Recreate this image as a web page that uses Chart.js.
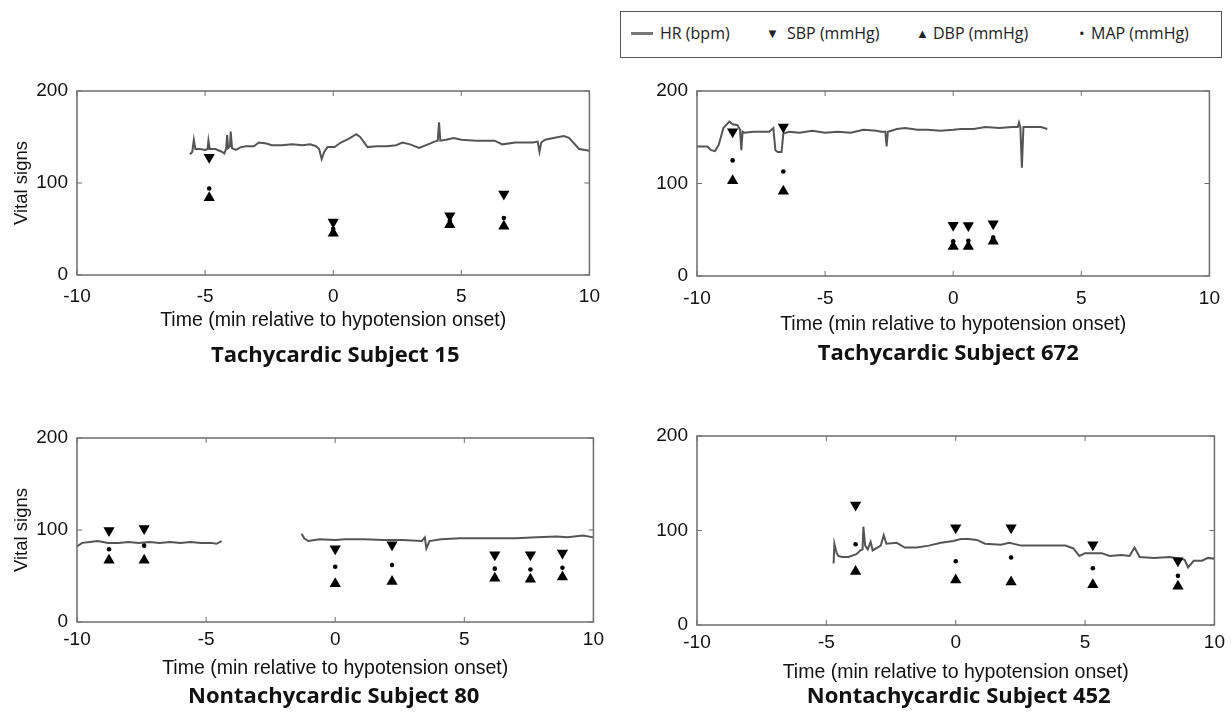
<!DOCTYPE html>
<html>
<head>
<meta charset="utf-8">
<script src="https://cdn.jsdelivr.net/npm/chart.js@4.4.1/dist/chart.umd.min.js"></script>
<style>
  html, body { margin: 0; padding: 0; background: #fff; }
  body { width: 1231px; height: 716px; position: relative; overflow: hidden; }
  canvas { position: absolute; }
  #legend { position: absolute; left: 620px; top: 11px; width: 602px; height: 47px; border: 1.5px solid #555; box-sizing: border-box; font-family: "Open Sans", sans-serif; font-size: 16px; color: #222; }
  #legend span { position: absolute; top: 10px; white-space: nowrap; }
</style>
</head>
<body>
<div id="legend">
  <span style="left:10px;top:20px;width:22px;height:3px;background:#777;"></span>
  <span style="left:39px;">HR (bpm)</span>
  <span style="left:145px;font-size:13px;top:12px;">&#9660;</span>
  <span style="left:166px;">SBP (mmHg)</span>
  <span style="left:295px;font-size:13px;top:12px;">&#9650;</span>
  <span style="left:312px;">DBP (mmHg)</span>
  <span style="left:458px;font-size:15px;top:11px;">&#8226;</span>
  <span style="left:470px;">MAP (mmHg)</span>
</div>
<canvas id="c1"></canvas>
<canvas id="c2"></canvas>
<canvas id="c3"></canvas>
<canvas id="c4"></canvas>
<script>
// ---------- Data ----------
const xTicks = [-10, -5, 0, 5, 10];
const yTicks = [0, 100, 200];
const seriesNames = ["HR (bpm)", "SBP (mmHg)", "DBP (mmHg)", "MAP (mmHg)"];
const panelTitles = ["Tachycardic Subject 15", "Tachycardic Subject 672", "Nontachycardic Subject 80", "Nontachycardic Subject 452"];

// Subject 15
const hr15Time = [-5.59,-5.50,-5.44,-5.38,-5.20,-5.00,-4.90,-4.87,-4.82,-4.60,-4.35,-4.25,-4.18,-4.14,-4.10,-4.03,-4.00,-3.95,-3.80,-3.60,-3.40,-3.10,-2.90,-2.60,-2.40,-2.00,-1.60,-1.20,-0.90,-0.67,-0.55,-0.45,-0.35,-0.22,0.05,0.30,0.60,0.90,1.05,1.34,1.70,2.10,2.46,2.70,3.00,3.35,3.70,3.95,4.08,4.13,4.18,4.40,4.70,5.00,5.60,6.30,6.60,7.10,7.80,7.98,8.05,8.12,8.27,8.60,9.00,9.20,9.60,10.00];
const hr15 =     [131,134,147,137,137,136,137,146,137,137,134,132,137,152,138,140,156,138,136,139,140,140,144,143,141,141,142,141,142,140,137,126,134,139,139,144,148,153,150,139,140,140,141,144,142,138,142,145,146,166,146,147,149,147,146,146,142,144,144,145,134,144,147,149,151,149,137,135];
const bp15Time = [-4.84, 0, 4.55, 6.66];
const sbp15 = [128, 57.5, 64.5, 88];
const dbp15 = [84, 45.5, 54.5, 53];
const map15 = [94, 50, 59, 62];

// Subject 672
const hr672Time = [-10.00,-9.60,-9.45,-9.30,-9.15,-8.97,-8.80,-8.74,-8.60,-8.42,-8.32,-8.27,-8.22,-8.16,-7.80,-7.40,-7.18,-7.02,-6.94,-6.85,-6.70,-6.63,-6.40,-6.00,-5.50,-5.00,-4.50,-4.00,-3.50,-3.00,-2.80,-2.65,-2.60,-2.55,-2.20,-1.87,-1.40,-1.00,-0.50,0.00,0.30,0.80,1.25,1.80,2.30,2.52,2.57,2.62,2.68,2.74,3.00,3.43,3.67];
const hr672 =     [140,140,136,135,142,160,165,167,164,163,158,136,156,155,156,156,156,160,136,134,134,154,156,155,157,155,156,155,158,157,156,156,140,156,159,160,158,158,157,158,159,159,161,160,161,161,166,161,117,161,161,161,159];
const bp672Time = [-8.61, -6.63, 0, 0.59, 1.56];
const sbp672 = [156, 161, 55, 54.5, 56.5];
const dbp672 = [103, 91.5, 32, 32, 37.5];
const map672 = [125, 113, 37.5, 38, 41.5];

// Subject 80 (null = gap in HR recording)
const hr80Time = [-10.00,-9.80,-9.50,-9.20,-8.80,-8.40,-8.00,-7.60,-7.20,-6.80,-6.40,-6.00,-5.60,-5.20,-4.80,-4.60,-4.40,-3.00,-1.30,-1.20,-1.05,-0.60,0.00,0.40,1.10,1.86,2.60,3.35,3.47,3.53,3.65,4.10,4.84,5.50,6.33,7.00,7.80,8.57,9.00,9.60,10.00];
const hr80 =     [82,86,87,88,86,86,87,86,87,86,87,86,87,86,86,85,88,null,96,91,88,90,89,90,90,89,89,88,92,80,88,90,91,91,91,91,92,93,92,94,92];
const bp80Time = [-8.76, -7.4, 0, 2.2, 6.18, 7.56, 8.8];
const sbp80 = [99.5, 101.5, 79.5, 84, 73, 73, 75];
const dbp80 = [67, 67, 41.5, 44, 47.5, 46.5, 49];
const map80 = [79, 83, 60, 62, 58, 57, 59];

// Subject 452
const hr452Time = [-4.72,-4.69,-4.60,-4.53,-4.38,-4.15,-3.84,-3.68,-3.60,-3.57,-3.50,-3.40,-3.29,-3.21,-2.90,-2.78,-2.68,-2.28,-1.97,-1.50,-1.04,-0.57,-0.10,0.20,0.50,0.82,1.13,1.75,2.07,2.53,3.30,4.24,4.55,4.78,5.00,5.64,5.95,6.41,6.72,6.91,7.11,7.66,8.28,8.66,8.85,8.98,9.20,9.52,9.75,10.00];
const hr452 =     [65,86,76,73,72,72,75,79,80,104,84,80,88,79,84,95,86,87,82,82,84,87,89,91,91,90,86,85,87,84,84,84,81,73,76,76,73,74,73,82,72,71,72,70,69,61,68,68,71,70];
const bp452Time = [-3.87, 0, 2.14, 5.3, 8.59];
const sbp452 = [127, 103, 103, 85, 68];
const dbp452 = [56.5, 47.5, 45.5, 42.5, 41];
const map452 = [85.5, 67.5, 71.5, 60, 52];

// ---------- Helpers ----------
function pts(xs, ys) { return xs.map((x, i) => ({ x: x, y: ys[i] })); }
const FONT = '"Liberation Sans", Arial, sans-serif';

const framePlugin = {
  id: 'frame',
  afterDraw(chart, args, o) {
    const { ctx, chartArea: a, scales } = chart;
    ctx.save();
    ctx.strokeStyle = '#6e6e6e';
    ctx.lineWidth = 1.5;
    ctx.strokeRect(a.left, a.top, a.right - a.left, a.bottom - a.top);
    ctx.lineWidth = 1;
    const tl = 5;
    scales.x.ticks.forEach(t => {
      const px = scales.x.getPixelForValue(t.value);
      ctx.beginPath();
      ctx.moveTo(px, a.bottom); ctx.lineTo(px, a.bottom - tl);
      ctx.moveTo(px, a.top); ctx.lineTo(px, a.top + tl);
      ctx.stroke();
    });
    scales.y.ticks.forEach(t => {
      const py = scales.y.getPixelForValue(t.value);
      ctx.beginPath();
      ctx.moveTo(a.left, py); ctx.lineTo(a.left + tl, py);
      ctx.moveTo(a.right, py); ctx.lineTo(a.right - tl, py);
      ctx.stroke();
    });
    // panel caption, centred under the plot
    if (o && o.text) {
      ctx.fillStyle = '#111';
      ctx.font = 'bold 22px "Open Sans", sans-serif';
      ctx.textAlign = 'center';
      ctx.textBaseline = 'middle';
      ctx.fillText(o.text, (a.left + a.right) / 2 + o.dx, o.y);
    }
    ctx.restore();
  }
};

function makePanel(id, geo, opts) {
  const h = geo.subY + 22 - geo.top;
  const cv = document.getElementById(id);
  cv.width = geo.w; cv.height = h;
  cv.style.left = geo.left + 'px'; cv.style.top = geo.top + 'px';
  cv.style.width = geo.w + 'px'; cv.style.height = h + 'px';
  const tickFont = { family: FONT, size: 19 };
  const padBottom = h - (geo.B - geo.top) - geo.xH;
  new Chart(cv, {
    type: 'scatter',
    data: {
      datasets: [
        { label: seriesNames[0], type: 'line', data: pts(opts.hrT, opts.hr), borderColor: '#555', borderWidth: 2, pointRadius: 0, spanGaps: false, tension: 0, order: 2 },
        { label: seriesNames[1], data: pts(opts.bpT, opts.sbp), pointStyle: 'triangle', rotation: 180, pointRadius: 6.5, backgroundColor: '#000', borderColor: '#000', borderWidth: 0, order: 1 },
        { label: seriesNames[2], data: pts(opts.bpT, opts.dbp), pointStyle: 'triangle', pointRadius: 6.5, backgroundColor: '#000', borderColor: '#000', borderWidth: 0, order: 1 },
        { label: seriesNames[3], data: pts(opts.bpT, opts.map), pointStyle: 'circle', pointRadius: 2.3, backgroundColor: '#000', borderColor: '#000', borderWidth: 0, order: 0 }
      ]
    },
    options: {
      responsive: false,
      animation: false,
      devicePixelRatio: 1,
      layout: { padding: { left: 0, top: geo.T - geo.top, right: geo.left + geo.w - geo.R, bottom: padBottom } },
      scales: {
        x: {
          type: 'linear', min: -10, max: 10,
          afterBuildTicks: s => { s.ticks = xTicks.map(v => ({ value: v })); },
          afterFit: s => { s.height = geo.xH; },
          grid: { display: false, drawTicks: false },
          border: { display: false },
          ticks: { font: tickFont, color: '#111', padding: geo.xPad },
          title: { display: true, text: 'Time (min relative to hypotension onset)', font: { family: FONT, size: 19.5 }, color: '#111', padding: { top: 0, bottom: 0 } }
        },
        y: {
          type: 'linear', min: 0, max: 200,
          afterBuildTicks: s => { s.ticks = yTicks.map(v => ({ value: v })); },
          afterFit: s => { s.width = geo.L - geo.left; },
          grid: { display: false, drawTicks: false },
          border: { display: false },
          ticks: { font: tickFont, color: '#111', padding: 9 },
          title: { display: opts.yTitle, text: 'Vital signs', font: { family: FONT, size: 18.5 }, color: '#111', padding: { top: 11, bottom: 0 } }
        }
      },
      plugins: {
        legend: { display: false },
        tooltip: { enabled: false },
        title: { display: false },
        frame: { text: opts.title, y: geo.subY - geo.top, dx: geo.subDx }
      }
    },
    plugins: [framePlugin]
  });
}

makePanel('c1', { left: 0, top: 60, w: 610, L: 77, R: 599, T: 91, B: 275, xH: 57, xPad: 10, subY: 356, subDx: 2 },
  { hrT: hr15Time, hr: hr15, bpT: bp15Time, sbp: sbp15, dbp: dbp15, map: map15, title: panelTitles[0], yTitle: true });
makePanel('c2', { left: 620, top: 60, w: 611, L: 697, R: 1220, T: 91, B: 276, xH: 60, xPad: 11, subY: 354, subDx: -5 },
  { hrT: hr672Time, hr: hr672, bpT: bp672Time, sbp: sbp672, dbp: dbp672, map: map672, title: panelTitles[1], yTitle: false });
makePanel('c3', { left: 0, top: 400, w: 610, L: 77, R: 599, T: 438, B: 622, xH: 58, xPad: 6, subY: 697, subDx: -1.5 },
  { hrT: hr80Time, hr: hr80, bpT: bp80Time, sbp: sbp80, dbp: dbp80, map: map80, title: panelTitles[2], yTitle: true });
makePanel('c4', { left: 620, top: 400, w: 611, L: 697, R: 1221, T: 436, B: 625, xH: 59, xPad: 6, subY: 697, subDx: 3 },
  { hrT: hr452Time, hr: hr452, bpT: bp452Time, sbp: sbp452, dbp: dbp452, map: map452, title: panelTitles[3], yTitle: false });
</script>
</body>
</html>
